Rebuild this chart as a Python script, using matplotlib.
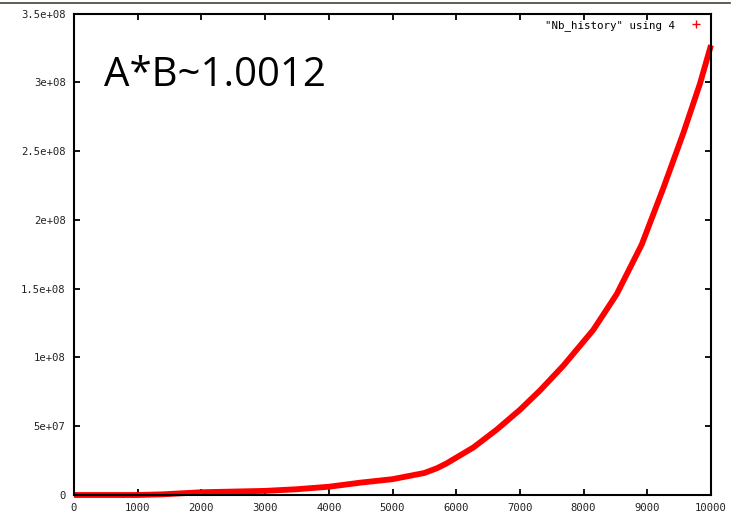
import matplotlib
matplotlib.use("Agg")
import matplotlib.pyplot as plt
from matplotlib.lines import Line2D

# column 4 of Nb_history against row index
step = [0, 1000, 1400, 1800, 2000, 2500, 3000, 3500, 4000, 4500, 5000, 5500, 5700,
        5850, 6268, 6636, 7002, 7316, 7682, 8152, 8520, 8912, 9251, 9565, 9827, 10000]
nb = [0, 0, 0.5e6, 1.5e6, 2.0e6, 2.5e6, 3.0e6, 4.2e6, 6.0e6, 9.0e6, 1.15e7, 1.6e7, 1.95e7,
      2.3e7, 3.45e7, 4.75e7, 6.2e7, 7.6e7, 9.4e7, 1.2e8, 1.46e8, 1.82e8, 2.23e8,
      2.63e8, 2.99e8, 3.27e8]

xticks = list(range(0, 10001, 1000))
yticks = [0, 5e7, 1e8, 1.5e8, 2e8, 2.5e8, 3e8, 3.5e8]
ytick_labels = ["0", "5e+07", "1e+08", "1.5e+08", "2e+08", "2.5e+08", "3e+08", "3.5e+08"]

fig = plt.figure(figsize=(7.32, 5.18), dpi=100)
ax = fig.add_axes([74 / 732, 1 - 495 / 518, (711 - 74) / 732, (495 - 13.5) / 518])

ax.plot(step, nb, color="red", lw=4.2, solid_capstyle="butt", solid_joinstyle="round",
        clip_on=False, zorder=2)

ax.set_xlim(0, 10000)
ax.set_ylim(0, 3.5e8)
ax.set_xticks(xticks)
ax.set_xticklabels([str(v) for v in xticks])
ax.set_yticks(yticks)
ax.set_yticklabels(ytick_labels)

mono = "DejaVu Sans Mono"
ax.tick_params(direction="in", length=4, width=1.3, top=True, right=True,
               labelsize=7.6, pad=6, colors="black")
for lab in ax.get_xticklabels() + ax.get_yticklabels():
    lab.set_family(mono)
    lab.set_color("#222222")
for sp in ax.spines.values():
    sp.set_linewidth(1.5)
    sp.set_zorder(3)

handle = Line2D([], [], ls="none", marker="+", color="red", markersize=6, mew=1)
ax.legend([handle], ['"Nb_history" using 4'], loc="upper right", frameon=False,
          markerfirst=False, prop={"family": mono, "size": 7.8},
          borderaxespad=0.2, handletextpad=1.2, handlelength=1.5)

ax.text(0.047, 0.87, "A*B~1.0012", transform=ax.transAxes, fontsize=29,
        family="Open Sans", va="center", ha="left", color="black")

fig.add_artist(Line2D([0, 730 / 732], [1 - 3 / 518, 1 - 3 / 518],
                      color="#3d4436", lw=1.2, transform=fig.transFigure))

fig.savefig("out.png", dpi=100)
